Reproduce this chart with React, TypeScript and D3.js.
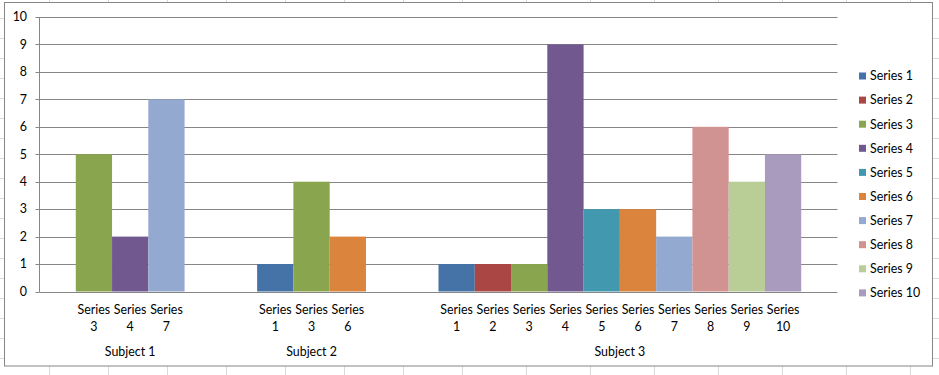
import React from "react";
import * as d3 from "d3";

const seriesNames = ["Series 1","Series 2","Series 3","Series 4","Series 5","Series 6","Series 7","Series 8","Series 9","Series 10"];
const seriesColors = ["#4572A7","#AA4643","#89A54E","#71588F","#4198AF","#DB843D","#93A9CF","#D19392","#B9CD96","#A99BBD"];
const subjects = ["Subject 1","Subject 2","Subject 3"];
const subject1Series = [3, 4, 7];
const subject1Values = [5, 2, 7];
const subject2Series = [1, 3, 6];
const subject2Values = [1, 4, 2];
const subject3Series = [1, 2, 3, 4, 5, 6, 7, 8, 9, 10];
const subject3Values = [1, 1, 1, 9, 3, 3, 2, 6, 4, 5];
const yTicks = [0,1,2,3,4,5,6,7,8,9,10];

const groups = [
  { subject: subjects[0], series: subject1Series, values: subject1Values },
  { subject: subjects[1], series: subject2Series, values: subject2Values },
  { subject: subjects[2], series: subject3Series, values: subject3Values },
];

// slot domain: 1 gap, group, 2 gaps, group, 2 gaps, group, 1 gap
const slots: string[] = [];
slots.push("g0");
groups.forEach((g, gi) => {
  g.series.forEach((s) => slots.push(`${gi}-${s}`));
  if (gi < groups.length - 1) { slots.push(`g${gi}a`); slots.push(`g${gi}b`); }
});
slots.push("gend");

const FONT = "Lato, 'Liberation Sans', sans-serif";
const FS = 12.4;

export default function App() {
  const W = 939, H = 375;
  const left = 39.5, right = 837.5, top = 17, bottom = 291.5;
  const x = d3.scaleBand<string>().domain(slots).range([left, right]).padding(0);
  const y = d3.scaleLinear().domain([0, 10]).range([bottom, top]);

  const bgV = [49, 108, 167, 226, 285, 344, 403, 462, 526, 590, 654, 718, 782, 846, 910];
  const bgH = d3.range(18, 375, 20);

  return (
    <svg width={W} height={H} style={{ position: "absolute", left: 0, top: 0, background: "#fff" }} fontFamily={FONT}>
      {bgV.map((v) => <line key={"v" + v} x1={v + 0.5} x2={v + 0.5} y1={0} y2={H} stroke="#d9d9d9" />)}
      {bgH.map((h) => <line key={"h" + h} x1={0} x2={W} y1={h + 0.5} y2={h + 0.5} stroke="#d9d9d9" />)}
      <rect x={4.5} y={2.5} width={928} height={363.5} fill="#fff" stroke="#868686" strokeWidth={1} />
      {yTicks.map((t) => (
        <g key={"t" + t}>
          <line x1={left} x2={right} y1={Math.round(y(t)) + 0.5} y2={Math.round(y(t)) + 0.5} stroke="#868686" />
          <line x1={left - 4} x2={left} y1={Math.round(y(t)) + 0.5} y2={Math.round(y(t)) + 0.5} stroke="#868686" />
          <text x={27} y={y(t)} dy="0.35em" textAnchor="end" fontSize={FS} fill="#000">{t}</text>
        </g>
      ))}
      <line x1={left} x2={left} y1={top} y2={bottom + 0.5} stroke="#868686" />
      {groups.map((g, gi) => g.series.map((s, i) => {
        const key = `${gi}-${s}`;
        const x0 = x(key)!;
        return (
          <rect key={key} x={x0} y={y(g.values[i])} width={x.bandwidth()} height={y(0) - y(g.values[i])} fill={seriesColors[s - 1]} />
        );
      }))}
      {groups.map((g, gi) => {
        const first = x(`${gi}-${g.series[0]}`)!;
        const last = x(`${gi}-${g.series[g.series.length - 1]}`)! + x.bandwidth();
        return (
          <g key={"lab" + gi}>
            {g.series.map((s) => {
              const cx = x(`${gi}-${s}`)! + x.bandwidth() / 2;
              return (
                <g key={"l" + s}>
                  <text x={cx} y={310} dy="0.35em" textAnchor="middle" fontSize={FS} fill="#000">Series</text>
                  <text x={cx} y={326.5} dy="0.35em" textAnchor="middle" fontSize={FS} fill="#000">{s}</text>
                </g>
              );
            })}
            <text x={(first + last) / 2} y={352} dy="0.35em" textAnchor="middle" fontSize={FS} fill="#000">{g.subject}</text>
          </g>
        );
      })}
      {seriesNames.map((n, i) => (
        <g key={n} transform={`translate(859,${76 + i * 24.1})`}>
          <rect x={0} y={-3.5} width={7} height={7} fill={seriesColors[i]} />
          <text x={11} y={0} dy="0.35em" fontSize={FS} fill="#000">{n}</text>
        </g>
      ))}
    </svg>
  );
}
